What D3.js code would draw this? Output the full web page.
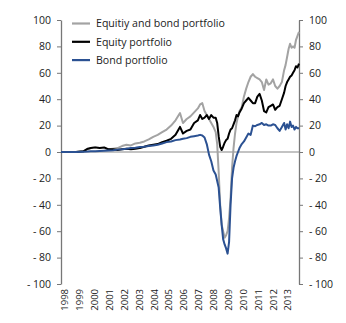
<!DOCTYPE html>
<html><head><meta charset="utf-8">
<script src="https://cdn.jsdelivr.net/npm/d3@7"></script>
<style>body{margin:0;background:#fff}svg{display:block}text{font-family:"Open Sans",sans-serif;fill:#222}</style>
</head><body><svg id="c" width="346" height="323"></svg>
<script>
const years = d3.range(1998, 2014);
const yTicks = [-100,-80,-60,-40,-20,0,20,40,60,80,100];
const seriesNames = ["Equitiy and bond portfolio","Equity portfolio","Bond portfolio"];
const seriesColors = ["#a3a3a3","#000000","#2b5192"];
const t = [1998.0,1998.5,1999.0,1999.5,1999.8,2000.0,2000.3,2000.6,2000.9,2001.2,2001.5,2001.8,2002.1,2002.4,2002.7,2003.0,2003.3,2003.6,2003.9,2004.2,2004.5,2004.8,2005.1,2005.4,2005.7,2006.0,2006.2,2006.45,2006.7,2006.95,2007.2,2007.35,2007.5,2007.65,2007.8,2007.95,2008.1,2008.25,2008.4,2008.5,2008.6,2008.7,2008.8,2008.9,2009.0,2009.1,2009.2,2009.3,2009.4,2009.5,2009.6,2009.7,2009.8,2009.9,2010.0,2010.15,2010.3,2010.45,2010.6,2010.75,2010.9,2011.05,2011.2,2011.35,2011.5,2011.65,2011.8,2011.95,2012.1,2012.25,2012.4,2012.55,2012.7,2012.85,2013.0,2013.1,2013.2,2013.3,2013.4,2013.5,2013.6,2013.7,2013.8,2013.9,2014.0];
const equityBond = [0,0,0,0.5,2,3,3.5,3,3,2,2.5,3,4.5,5.5,5,6.5,7,8,9.5,11.5,13,15,17,20,24,29.5,22,25,27,30,33,36,37,31,28,25,22,19,15,6,-15,-40,-55,-60,-65,-63,-60,-50,-35,-12,3,14,22,27,31,34,42,48,53,57,59,57,56,55,53,47,55,51,52,55,50,48,50,53,62,66,72,78,82,79,80,79,85,88,91];
const equity = [0,0,0,0.5,2.5,3,3.5,3,3.5,2,2,1.5,2,2.5,2,2.5,3,4,5,5.5,6,7.5,8.5,10,13,19,14,16,17,22,24,28,25,26,28,25,28,26,26,22,12,4,1.5,4,7,9,10,14,17,18,21,24,28,27,30,33,37,39,41,39,37,37,42,44,39,31,30,34,35,36,32,34,35,40,45,50,53,55,57,58,60,62,65,64,67];
const bond = [0,0,0,0.2,0.3,0.5,0.6,0.8,1,1.2,1.4,1.8,2,2.4,3,3.3,3.8,4,4.5,5,5.5,6.5,7.5,8,9,9.5,10,10.5,11.5,12,12.5,13,12.5,11,6,-2,-7,-14,-17,-22,-27,-42,-55,-66,-70,-73,-77,-68,-40,-20,-12,-7,-3,0,3,6,8,11,14,13,20,19.5,20.5,21,22,20.5,21,20,20,21,20.5,18,16,19,22,17,21,18,23,19,20,17,19,18,18];
const seriesValues = [equityBond, equity, bond];

const svg = d3.select("#c");
const x = d3.scaleLinear().domain([1998, 2014]).range([61, 299]);
const y = d3.scaleLinear().domain([-100, 100]).range([284, 20]);
const fmt = v => v < 0 ? "- " + Math.abs(v) : String(v);

const axL = d3.axisLeft(y).tickValues(yTicks).tickSize(4).tickSizeOuter(0).tickFormat(fmt).tickPadding(6);
const axR = d3.axisRight(y).tickValues(yTicks).tickSize(4).tickSizeOuter(0).tickFormat(fmt).tickPadding(6);
[svg.append("g").attr("transform","translate(61,0)").call(axL),
 svg.append("g").attr("transform","translate(299,0)").call(axR)].forEach(g=>{
  g.select(".domain").attr("stroke","#777").attr("stroke-width",1.3);
  g.selectAll(".tick line").attr("stroke","#777").attr("stroke-width",1);
  g.selectAll(".tick text").attr("font-size",10.5).attr("font-family","Open Sans").attr("fill","#222");
});

svg.append("line").attr("x1",x(1998)).attr("x2",x(2014)).attr("y1",y(0)).attr("y2",y(0))
  .attr("stroke","#888").attr("stroke-width",1.2);

svg.append("g").selectAll("text").data(years).join("text")
  .attr("transform", d => `translate(${x(d)+4},289) rotate(-90)`)
  .attr("text-anchor","end").attr("dy","0.35em").attr("font-size",9.5).text(d=>d);

const line = d3.line().x((d,i)=>x(t[i])).y(d=>y(d));
seriesValues.forEach((vals,k)=>{
  svg.append("path").datum(vals).attr("d", line).attr("fill","none")
    .attr("stroke", seriesColors[k]).attr("stroke-width",2).attr("stroke-linejoin","round");
});

const lg = svg.append("g");
seriesNames.forEach((n,k)=>{
  const yy = 23.5 + k*18.3;
  lg.append("line").attr("x1",72).attr("x2",90).attr("y1",yy).attr("y2",yy)
    .attr("stroke",seriesColors[k]).attr("stroke-width",2.2);
  lg.append("text").attr("x",96).attr("y",yy).attr("dy","0.35em").attr("font-size",10.6).text(n);
});
</script></body></html>
